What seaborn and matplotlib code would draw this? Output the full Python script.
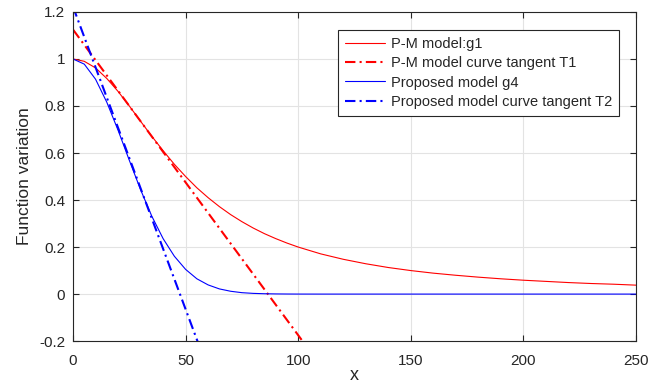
import matplotlib
matplotlib.use("Agg")
from matplotlib import pyplot as plt
from matplotlib.ticker import FuncFormatter
import pandas as pd
import seaborn as sns

# values
x_vals = [0, 5, 10, 15, 20, 25, 30, 35, 40, 45, 50, 55, 60, 65, 70, 75, 80, 85, 90, 95, 100,
          110, 120, 130, 140, 150, 160, 170, 180, 190, 200, 210, 220, 230, 240, 250]
g1_vals = [1.000, 0.990, 0.962, 0.917, 0.862, 0.800, 0.735, 0.671, 0.610, 0.552, 0.500,
           0.452, 0.410, 0.372, 0.338, 0.308, 0.281, 0.257, 0.236, 0.217, 0.200,
           0.171, 0.148, 0.129, 0.113, 0.100, 0.089, 0.080, 0.072, 0.065, 0.059,
           0.054, 0.049, 0.045, 0.042, 0.038]
g4_vals = [1.000, 0.978, 0.914, 0.816, 0.697, 0.569, 0.444, 0.331, 0.236, 0.161, 0.105,
           0.065, 0.039, 0.022, 0.012, 0.006, 0.003, 0.0015, 0.0007, 0.0003, 0.0001,
           0, 0, 0, 0, 0, 0, 0, 0, 0, 0, 0, 0, 0, 0, 0]
t1_x = [0, 110]
t1_y = [1.125, -0.305]
t2_x = [0, 60]
t2_y = [1.222, -0.322]

labels = ["P-M model:g1", "P-M model curve tangent T1",
          "Proposed model g4", "Proposed model curve tangent T2"]

sns.set_theme(style="ticks")
plt.rcParams['font.family'] = ['Liberation Sans', 'DejaVu Sans']
plt.rcParams['axes.unicode_minus'] = False

fig = plt.figure(figsize=(6.49, 3.85), dpi=100)
ax = fig.add_axes([0.1125, 0.114, 0.8675, 0.855])

curves = pd.DataFrame({"x": x_vals, "g1": g1_vals, "g4": g4_vals})
dashdot = (0, (5, 2, 1, 2))

sns.lineplot(data=curves, x="x", y="g1", color="red", linewidth=0.8, label=labels[0], ax=ax)
sns.lineplot(x=t1_x, y=t1_y, color="red", linewidth=1.5, linestyle=dashdot, label=labels[1], ax=ax)
sns.lineplot(data=curves, x="x", y="g4", color="blue", linewidth=0.8, label=labels[2], ax=ax)
sns.lineplot(x=t2_x, y=t2_y, color="blue", linewidth=1.5, linestyle=dashdot, label=labels[3], ax=ax)

ax.set_xlim(0, 250)
ax.set_ylim(-0.2, 1.2)
ax.set_xticks([0, 50, 100, 150, 200, 250])
ax.set_yticks([-0.2, 0, 0.2, 0.4, 0.6, 0.8, 1, 1.2])
ax.yaxis.set_major_formatter(FuncFormatter(lambda v, p: "%g" % round(v, 2)))
ax.grid(True, color="#e3e3e3", linewidth=0.8)
ax.tick_params(direction="in", top=True, right=True, length=4, width=0.8,
               labelsize=11, colors="#262626")
ax.tick_params(axis="x", pad=9.5)
ax.tick_params(axis="y", pad=5.5)
for s in ax.spines.values():
    s.set_visible(True)
    s.set_color("#262626")
    s.set_linewidth(0.8)

ax.set_xlabel("x", fontsize=13, color="#262626", labelpad=-1)
ax.set_ylabel("Function variation", fontsize=12.5, color="#262626", labelpad=5)

leg = ax.legend(loc="upper right", bbox_to_anchor=(0.97, 0.945), borderaxespad=0,
                fontsize=10.5, frameon=True, fancybox=False, handlelength=2.7,
                labelspacing=0.35, borderpad=0.5, handletextpad=0.4)
leg.get_frame().set_edgecolor("#262626")
leg.get_frame().set_linewidth(0.8)
leg.get_frame().set_alpha(1)

fig.savefig("out.png", dpi=100)
